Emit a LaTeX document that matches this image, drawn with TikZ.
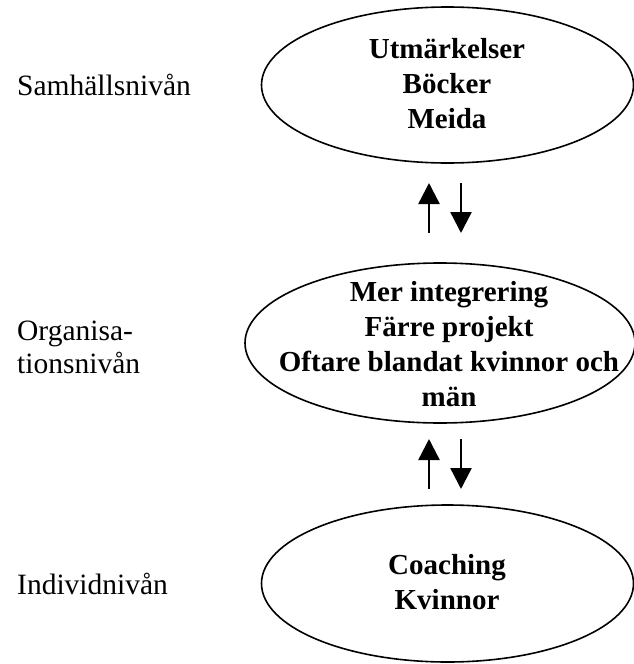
\documentclass[tikz,border=0pt]{standalone}
\usepackage{fontspec}
\setmainfont{Liberation Serif}
\usetikzlibrary{shapes.geometric,arrows.meta}
\begin{document}
\begin{tikzpicture}[x=1pt,y=-1pt,
  level/.style={ellipse,draw,line width=1.6pt,inner sep=0pt},
  inner/.style={align=center,inner sep=0pt,font=\fontsize{29}{35}\selectfont\bfseries},
  lab/.style={anchor=west,align=left,inner sep=0pt,font=\fontsize{29.5}{33}\selectfont},
  arr/.style={line width=2.4pt,-{Triangle[width=21pt,length=21pt]}}]
\useasboundingbox (0,0) rectangle (633,664);
\node[level,minimum width=372pt,minimum height=156pt] (soc) at (447.5,85) {};
\node[level,minimum width=390pt,minimum height=160pt] (org) at (440,343) {};
\node[level,minimum width=372pt,minimum height=157pt] (ind) at (447.5,583.5) {};
\node[inner] (tsoc) at (447,84) {Utmärkelser\\Böcker\\Meida};
\node[inner] (torg) at (449,344) {Mer integrering\\Färre projekt\\Oftare blandat kvinnor och\\män};
\node[inner] (tind) at (447,582) {Coaching\\Kvinnor};
\node[lab] (lsoc) at (17,85) {Samhällsnivån};
\node[lab] (lorg) at (17,347) {Organisa-\\tionsnivån};
\node[lab] (lind) at (17,584) {Individnivån};
\coordinate (a1s) at (429,233);
\coordinate (a1e) at (429,183);
\coordinate (b1s) at (461,183);
\coordinate (b1e) at (461,233);
\coordinate (a2s) at (429,489);
\coordinate (a2e) at (429,439);
\coordinate (b2s) at (461,439);
\coordinate (b2e) at (461,489);
\draw[arr] (a1s) -- (a1e);
\draw[arr] (b1s) -- (b1e);
\draw[arr] (a2s) -- (a2e);
\draw[arr] (b2s) -- (b2e);
\end{tikzpicture}
\end{document}
